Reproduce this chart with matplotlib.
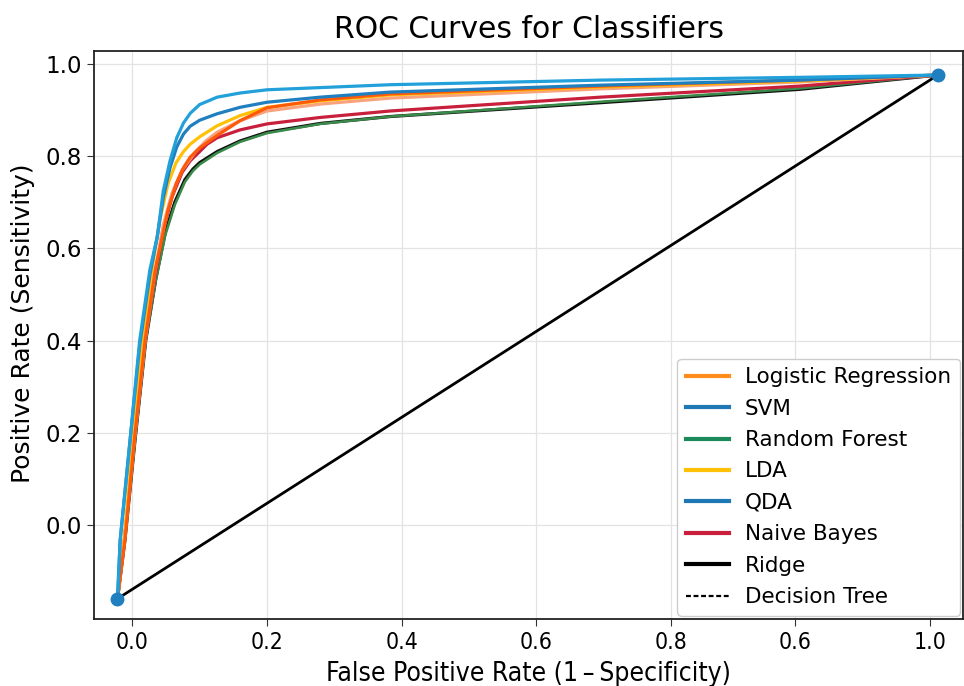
import matplotlib
matplotlib.use("Agg")
import matplotlib.pyplot as plt
from matplotlib.lines import Line2D

# ROC curves (x = false positive rate, y = sensitivity)
qda_fpr = [-0.022, -0.018, -0.003, 0.011, 0.026, 0.037, 0.046, 0.056, 0.066, 0.076, 0.086, 0.100, 0.126, 0.160, 0.200, 0.383, 0.695, 0.991, 1.196]
qda_tpr = [-0.160, -0.033, 0.189, 0.401, 0.553, 0.625, 0.725, 0.790, 0.840, 0.872, 0.893, 0.912, 0.928, 0.937, 0.944, 0.955, 0.965, 0.971, 0.976]

svm_fpr = [-0.022, -0.018, -0.003, 0.011, 0.026, 0.037, 0.046, 0.056, 0.066, 0.076, 0.086, 0.100, 0.126, 0.160, 0.200, 0.279, 0.383, 0.695, 0.991, 1.196]
svm_tpr = [-0.160, -0.033, 0.189, 0.390, 0.542, 0.625, 0.710, 0.775, 0.820, 0.848, 0.865, 0.878, 0.892, 0.906, 0.917, 0.928, 0.939, 0.954, 0.965, 0.976]

logreg_fpr = [-0.022, -0.011, 0.003, 0.019, 0.034, 0.044, 0.053, 0.065, 0.076, 0.086, 0.100, 0.126, 0.160, 0.200, 0.279, 0.383, 0.695, 0.991, 1.196]
logreg_tpr = [-0.160, -0.033, 0.184, 0.401, 0.553, 0.622, 0.683, 0.740, 0.775, 0.798, 0.818, 0.845, 0.877, 0.905, 0.922, 0.935, 0.952, 0.965, 0.976]

lda_fpr = [-0.022, -0.012, 0.001, 0.016, 0.029, 0.041, 0.053, 0.065, 0.076, 0.086, 0.100, 0.126, 0.160, 0.200, 0.279, 0.383, 0.695, 0.991, 1.196]
lda_tpr = [-0.160, -0.033, 0.184, 0.401, 0.553, 0.662, 0.740, 0.786, 0.810, 0.826, 0.842, 0.866, 0.888, 0.906, 0.920, 0.933, 0.950, 0.963, 0.976]

salmon_fpr = [-0.022, -0.012, 0.003, 0.019, 0.034, 0.046, 0.059, 0.074, 0.093, 0.110, 0.126, 0.160, 0.200, 0.279, 0.383, 0.695, 0.991, 1.196]
salmon_tpr = [-0.160, -0.033, 0.184, 0.401, 0.553, 0.651, 0.720, 0.770, 0.808, 0.834, 0.852, 0.877, 0.898, 0.913, 0.926, 0.946, 0.961, 0.976]

nb_fpr = [-0.022, -0.012, 0.003, 0.019, 0.034, 0.046, 0.059, 0.074, 0.086, 0.100, 0.111, 0.126, 0.160, 0.200, 0.279, 0.383, 0.695, 0.991, 1.196]
nb_tpr = [-0.160, -0.033, 0.184, 0.401, 0.542, 0.640, 0.712, 0.765, 0.790, 0.810, 0.826, 0.840, 0.857, 0.870, 0.884, 0.898, 0.928, 0.952, 0.976]

rf_fpr = [-0.022, -0.011, 0.004, 0.020, 0.035, 0.049, 0.063, 0.078, 0.090, 0.100, 0.126, 0.160, 0.200, 0.279, 0.383, 0.695, 0.991, 1.196]
rf_tpr = [-0.160, -0.033, 0.184, 0.401, 0.531, 0.629, 0.694, 0.744, 0.768, 0.782, 0.807, 0.831, 0.850, 0.870, 0.886, 0.918, 0.947, 0.976]

ridge_fpr = rf_fpr
ridge_tpr = [-0.160, -0.033, 0.184, 0.401, 0.535, 0.635, 0.700, 0.749, 0.772, 0.786, 0.810, 0.833, 0.852, 0.871, 0.886, 0.916, 0.945, 0.976]

diag_fpr = [-0.022, 1.196]
diag_tpr = [-0.160, 0.976]

xtick_pos = [0.0, 0.2, 0.4, 0.6, 0.8, 0.984, 1.185]
xtick_labels = ["0.0", "0.2", "0.4", "0.6", "0.8", "0.6", "1.0"]
ytick_pos = [0.0, 0.2, 0.4, 0.6, 0.8, 1.0]

legend_names = ["Logistic Regression", "SVM", "Random Forest", "LDA", "QDA",
                "Naive Bayes", "Ridge", "Decision Tree"]
legend_colors = ["#ff8c1a", "#1f77b4", "#1b8a5a", "#ffc107", "#1f77b4",
                 "#c8203c", "black", "black"]

fig = plt.figure(figsize=(9.64, 6.86), dpi=100)
ax = fig.add_axes([0.0975, 0.0977, 0.9015, 0.828])

ax.grid(True, color="#e3e3e3", linewidth=0.9)
ax.set_axisbelow(True)

lw = 2.3
ax.plot(diag_fpr, diag_tpr, color="black", lw=2.0, zorder=2)
ax.plot(ridge_fpr, ridge_tpr, color="#111111", lw=lw, zorder=3)
ax.plot(rf_fpr, rf_tpr, color="#3a8a4a", lw=lw * 0.8, zorder=3)
ax.plot(nb_fpr, nb_tpr, color="#c8203c", lw=lw, zorder=4)
ax.plot(salmon_fpr, salmon_tpr, color="#f8a27e", lw=lw, zorder=4)
ax.plot(lda_fpr, lda_tpr, color="#ffc107", lw=lw, zorder=5)
ax.plot(logreg_fpr, logreg_tpr, color="#ff5a0a", lw=lw, zorder=5)
ax.plot(svm_fpr, svm_tpr, color="#1f7fbf", lw=lw, zorder=6)
ax.plot(qda_fpr, qda_tpr, color="#22a0da", lw=lw, zorder=7)
ax.plot([diag_fpr[0], diag_fpr[-1]], [diag_tpr[0], diag_tpr[-1]], "o",
        color="#1f7fbf", markersize=9, zorder=8)

ax.set_xlim(-0.0569, 1.2334)
ax.set_ylim(-0.2039, 1.0282)
ax.set_xticks(xtick_pos)
ax.set_xticklabels(xtick_labels, fontsize=16.5, fontstretch="condensed")
ax.set_yticks(ytick_pos)
ax.tick_params(axis="y", labelsize=16.5)
ax.tick_params(length=5, color="#333333")
for s in ax.spines.values():
    s.set_color("#222222")
    s.set_linewidth(1.3)

ax.set_xlabel("False Positive Rate (1\u2009\u2013\u2009Specificity)", fontsize=19,
              fontstretch="condensed", labelpad=5)
ax.set_ylabel("Positive Rate (Sensitivity)", fontsize=18)
ax.yaxis.set_label_coords(-0.068, 0.52)
ax.set_title("ROC Curves for Classifiers", fontsize=21.5, pad=9)

handles = []
for name, col in zip(legend_names, legend_colors):
    if name == "Decision Tree":
        handles.append(Line2D([], [], color=col, lw=1.6, linestyle=(0, (2.2, 1.2))))
    else:
        handles.append(Line2D([], [], color=col, lw=3))
ax.legend(handles, legend_names, loc="lower right", bbox_to_anchor=(1.0, 0.0),
          fontsize=15.5, labelspacing=0.53, handlelength=2.0, handletextpad=0.75,
          borderaxespad=0.15, framealpha=1.0, edgecolor="#cccccc")

fig.savefig("out.png", dpi=100)
